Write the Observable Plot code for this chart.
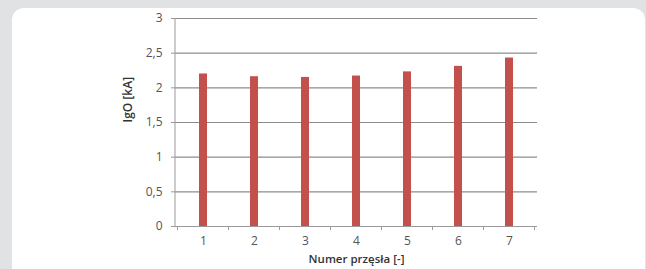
<!DOCTYPE html>
<html>
<head>
<meta charset="utf-8">
<script src="https://cdn.jsdelivr.net/npm/d3@7"></script>
<script src="https://cdn.jsdelivr.net/npm/@observablehq/plot@0.6"></script>
<style>
  html, body { margin: 0; padding: 0; background: #e1e2e4; width: 646px; height: 269px; overflow: hidden; }
  #panel { position: absolute; left: 12px; top: 8px; width: 633px; height: 300px; background: #fff; border-radius: 12px; }
  #chart { position: absolute; left: 0; top: 0; }
  #chart svg { background: transparent; }
</style>
</head>
<body>
<div id="panel"></div>
<div id="chart"></div>
<script>
const categories = ["1", "2", "3", "4", "5", "6", "7"];
const values = [2.20, 2.16, 2.15, 2.17, 2.23, 2.31, 2.43];
const yTicks = [0, 0.5, 1, 1.5, 2, 2.5, 3];
const yTickLabels = ["0", "0,5", "1", "1,5", "2", "2,5", "3"];
const xTitle = "Numer przęsła [-]";
const yTitle = "IgO [kA]";

const data = categories.map((c, i) => ({c, v: values[i]}));
const font = "'Open Sans', 'Liberation Sans', sans-serif";

// y-axis line and Excel-style category divider ticks, computed from the scales
function axisLines(index, scales, values, dims) {
  const x = scales.x, y = scales.y;
  const step = x.step(), bw = x.bandwidth();
  const y0 = y(0);
  const g = d3.create("svg:g");
  const left = dims.marginLeft;
  g.append("line").attr("x1", left).attr("x2", left).attr("y1", y(3)).attr("y2", y0)
    .attr("stroke", "#9a9a9a").attr("stroke-width", 1);
  const bounds = categories.map(c => x(c) + bw / 2 - step / 2);
  bounds.push(x(categories[categories.length - 1]) + bw / 2 + step / 2);
  for (const b of bounds) {
    g.append("line").attr("x1", b).attr("x2", b).attr("y1", y0).attr("y2", y0 + 4)
      .attr("stroke", "#9a9a9a").attr("stroke-width", 1);
  }
  return g.node();
}

const plot = Plot.plot({
  width: 646,
  height: 269,
  marginLeft: 175,
  marginRight: 109,
  marginTop: 18,
  marginBottom: 43,
  style: {fontFamily: font, fontSize: "12px", color: "#555", background: "transparent", overflow: "visible"},
  x: {type: "band", domain: categories, paddingInner: 0.845, paddingOuter: 0.4225, align: 0.5, label: null},
  y: {domain: [0, 3], label: null},
  marks: [
    Plot.gridY(yTicks, {stroke: "#8c8c8c", strokeOpacity: 1, strokeWidth: 1.2}),
    Plot.barY(data, {x: "c", y: "v", fill: "#c4504e"}),
    Plot.ruleY([0], {stroke: "#9a9a9a"}),
    axisLines,
    Plot.axisY(yTicks, {tickSize: 4, tickPadding: 9, stroke: "#9a9a9a", fill: "#555", fontSize: 12,
      tickFormat: (d) => yTickLabels[yTicks.indexOf(d)], label: null}),
    Plot.axisX(categories, {tickSize: 0, tickPadding: 10, fill: "#555", fontSize: 12, label: null}),
    Plot.text([xTitle], {frameAnchor: "bottom", dy: 36, lineAnchor: "bottom", text: d => d, fill: "#333", fontSize: 11.5, fontWeight: 600}),
    Plot.text([yTitle], {frameAnchor: "left", dx: -47, rotate: -90, text: d => d, fill: "#333", fontSize: 12, fontWeight: 600})
  ]
});
document.getElementById("chart").appendChild(plot);
</script>
</body>
</html>
